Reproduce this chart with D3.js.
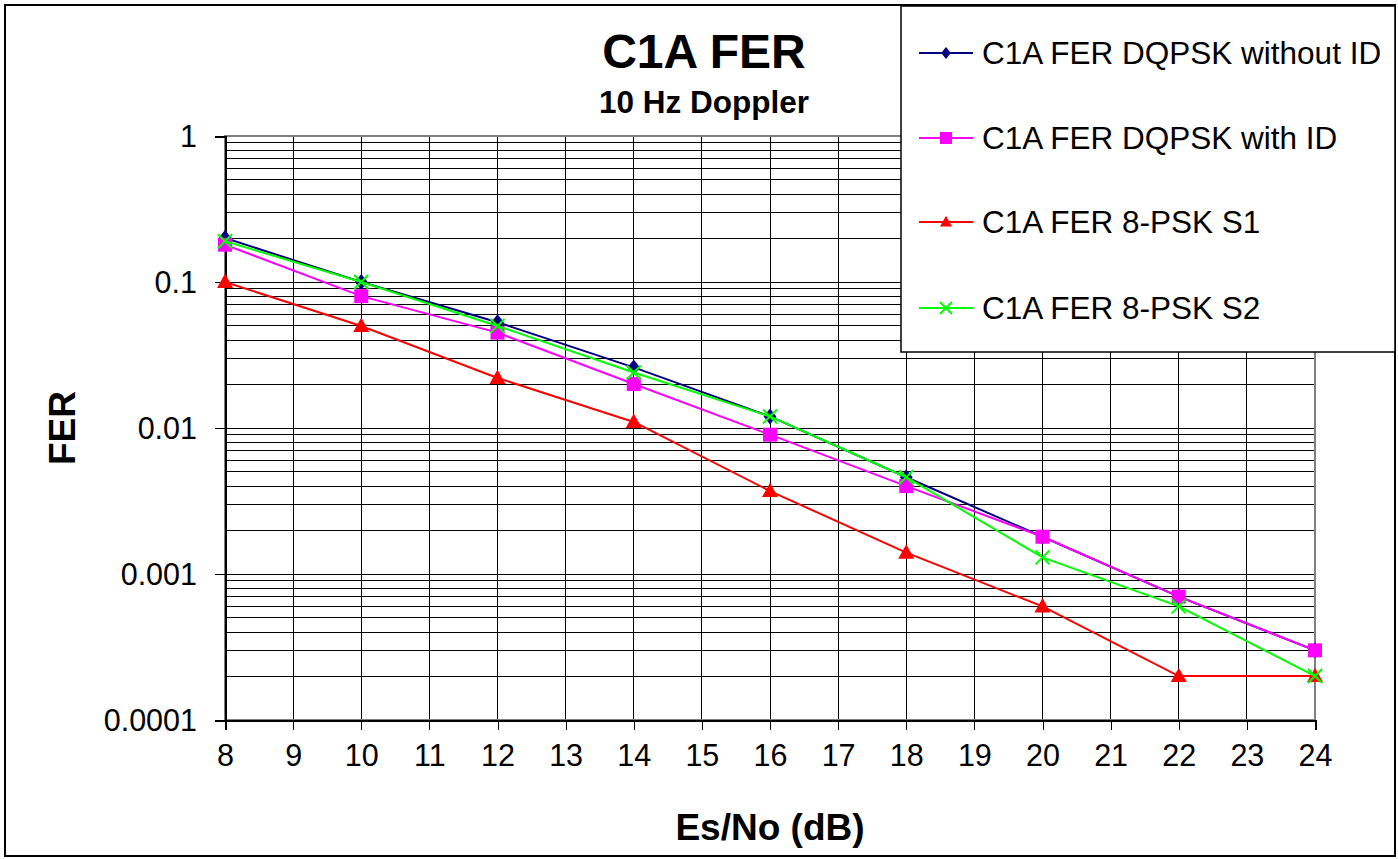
<!DOCTYPE html>
<html>
<head>
<meta charset="utf-8">
<script src="https://cdn.jsdelivr.net/npm/d3@7"></script>
<style>
  body { margin: 0; background: #fff; }
  text { font-family: "Liberation Sans", Arial, sans-serif; }
</style>
</head>
<body>
<div id="chart"></div>
<script>
// values
var esno = [8, 10, 12, 14, 16, 18, 20, 22, 24];
var dqpskNoId = [0.2, 0.1, 0.053, 0.026, 0.012, 0.0046, 0.0018, 0.0007, 0.0003];
var dqpskId = [0.18, 0.08, 0.045, 0.02, 0.009, 0.004, 0.0018, 0.0007, 0.0003];
var psk8S1 = [0.1, 0.05, 0.022, 0.011, 0.0037, 0.0014, 0.0006, 0.0002, 0.0002];
var psk8S2 = [0.19, 0.1, 0.05, 0.024, 0.012, 0.0046, 0.0013, 0.0006, 0.0002];
var xTicks = d3.range(8, 25);
var yTicks = [1, 0.1, 0.01, 0.001, 0.0001];
var yTickLabels = ["1", "0.1", "0.01", "0.001", "0.0001"];

var series = [
  { name: "C1A FER DQPSK without ID", values: dqpskNoId, color: "#000080", marker: "diamond" },
  { name: "C1A FER DQPSK with ID", values: dqpskId, color: "#FF00FF", marker: "square" },
  { name: "C1A FER 8-PSK S1", values: psk8S1, color: "#FF0000", marker: "triangle" },
  { name: "C1A FER 8-PSK S2", values: psk8S2, color: "#00FF00", marker: "cross" }
];

var W = 1398, H = 859;
var plot = { left: 225, right: 1315, top: 136, bottom: 720 };

var svg = d3.select("#chart").append("svg")
    .attr("width", W)
    .attr("height", H);

// outer frame of the chart
svg.append("rect")
    .attr("x", 5).attr("y", 5)
    .attr("width", 1390).attr("height", 851)
    .attr("fill", "#fff")
    .attr("stroke", "#000")
    .attr("stroke-width", 2);

var x = d3.scaleLinear().domain([8, 24]).range([plot.left, plot.right]);
var y = d3.scaleLog().domain([0.0001, 1]).range([plot.bottom, plot.top]);

var grid = svg.append("g").attr("shape-rendering", "crispEdges");

// horizontal grid: every 1..9 in each decade
var minor = [];
[0.0001, 0.001, 0.01, 0.1].forEach(function (d) {
  for (var k = 2; k <= 9; k++) minor.push(d * k);
});
grid.selectAll(".hgrid")
    .data(minor.concat(yTicks))
    .enter().append("line")
    .attr("x1", plot.left).attr("x2", plot.right)
    .attr("y1", function (d) { return y(d); })
    .attr("y2", function (d) { return y(d); })
    .attr("stroke", "#000")
    .attr("stroke-width", 1);

grid.selectAll(".vgrid")
    .data(xTicks)
    .enter().append("line")
    .attr("x1", function (d) { return x(d); })
    .attr("x2", function (d) { return x(d); })
    .attr("y1", plot.top).attr("y2", plot.bottom)
    .attr("stroke", "#000")
    .attr("stroke-width", 1);

// plot border: grey on top/right
grid.append("rect")
    .attr("x", plot.left).attr("y", plot.top)
    .attr("width", plot.right - plot.left)
    .attr("height", plot.bottom - plot.top)
    .attr("fill", "none")
    .attr("stroke", "#808080")
    .attr("stroke-width", 2);

// axes
var xAxis = d3.axisBottom(x).tickValues(xTicks).tickSize(10).tickPadding(14)
    .tickFormat(d3.format("d"));
var gx = svg.append("g")
    .attr("transform", "translate(0," + plot.bottom + ")")
    .call(xAxis);

var yAxis = d3.axisLeft(y).tickValues(yTicks).tickSize(10).tickPadding(18)
    .tickFormat(function (d, i) { return yTickLabels[i]; });
var gy = svg.append("g")
    .attr("transform", "translate(" + plot.left + ",0)")
    .call(yAxis);

[gx, gy].forEach(function (g) {
  g.attr("shape-rendering", "crispEdges");
  g.select(".domain").attr("stroke", "#000").attr("stroke-width", 2);
  g.selectAll(".tick line").attr("stroke", "#000");
  g.selectAll(".tick text")
      .attr("font-family", "'Liberation Sans', Arial, sans-serif")
      .attr("font-size", 30.5)
      .attr("fill", "#000");
});
gy.selectAll(".tick text").attr("dy", "0.36em");
gx.selectAll(".tick text").attr("dy", "0.71em");

// markers
function drawMarker(g, type, color, cx, cy, s) {
  if (type === "diamond") {
    g.append("path")
        .attr("d", "M" + cx + "," + (cy - s) + "L" + (cx + s * 0.8) + "," + cy +
          "L" + cx + "," + (cy + s) + "L" + (cx - s * 0.8) + "," + cy + "Z")
        .attr("fill", color);
  } else if (type === "square") {
    g.append("rect")
        .attr("x", cx - s).attr("y", cy - s)
        .attr("width", 2 * s).attr("height", 2 * s)
        .attr("fill", color);
  } else if (type === "triangle") {
    g.append("path")
        .attr("d", "M" + cx + "," + (cy - s * 1.05) + "L" + (cx + s) + "," + (cy + s * 0.75) +
          "L" + (cx - s) + "," + (cy + s * 0.75) + "Z")
        .attr("fill", color);
  } else {
    g.append("path")
        .attr("d", "M" + (cx - s) + "," + (cy - s) + "L" + (cx + s) + "," + (cy + s) +
          "M" + (cx + s) + "," + (cy - s) + "L" + (cx - s) + "," + (cy + s))
        .attr("stroke", color)
        .attr("stroke-width", 2)
        .attr("fill", "none");
  }
}

var markerSize = { diamond: 8, square: 7, triangle: 8, cross: 7 };

var line = d3.line()
    .x(function (d) { return x(d[0]); })
    .y(function (d) { return y(d[1]); });

series.forEach(function (s) {
  var pts = esno.map(function (e, i) { return [e, s.values[i]]; });
  var g = svg.append("g");
  g.append("path")
      .datum(pts)
      .attr("d", line)
      .attr("fill", "none")
      .attr("stroke", s.color)
      .attr("stroke-width", 2);
  pts.forEach(function (p) {
    drawMarker(g, s.marker, s.color, x(p[0]), y(p[1]), markerSize[s.marker]);
  });
});

// titles
svg.append("text")
    .attr("x", 704).attr("y", 68)
    .attr("text-anchor", "middle")
    .attr("font-size", 48).attr("font-weight", "bold")
    .text("C1A FER");
svg.append("text")
    .attr("x", 704).attr("y", 113)
    .attr("text-anchor", "middle")
    .attr("font-size", 31.5).attr("font-weight", "bold")
    .text("10 Hz Doppler");

svg.append("text")
    .attr("x", (plot.left + plot.right) / 2).attr("y", 840)
    .attr("text-anchor", "middle")
    .attr("font-size", 37).attr("font-weight", "bold")
    .text("Es/No (dB)");

svg.append("text")
    .attr("transform", "translate(75," + ((plot.top + plot.bottom) / 2) + ") rotate(-90)")
    .attr("text-anchor", "middle")
    .attr("font-size", 37).attr("font-weight", "bold")
    .text("FER");

// legend
var legend = svg.append("g");
legend.append("rect")
    .attr("x", 901).attr("y", 6)
    .attr("width", 494).attr("height", 346)
    .attr("fill", "#fff")
    .attr("stroke", "#000")
    .attr("stroke-width", 1.5);

var legendY = [53, 138, 222, 308];
series.forEach(function (s, i) {
  var ly = legendY[i];
  var g = legend.append("g");
  g.append("line")
      .attr("x1", 919).attr("x2", 973)
      .attr("y1", ly).attr("y2", ly)
      .attr("stroke", s.color)
      .attr("stroke-width", 2);
  drawMarker(g, s.marker, s.color, 946, ly, 6);
  g.append("text")
      .attr("x", 982).attr("y", ly + 11)
      .attr("font-size", 31.5)
      .text(s.name);
});
</script>
</body>
</html>
